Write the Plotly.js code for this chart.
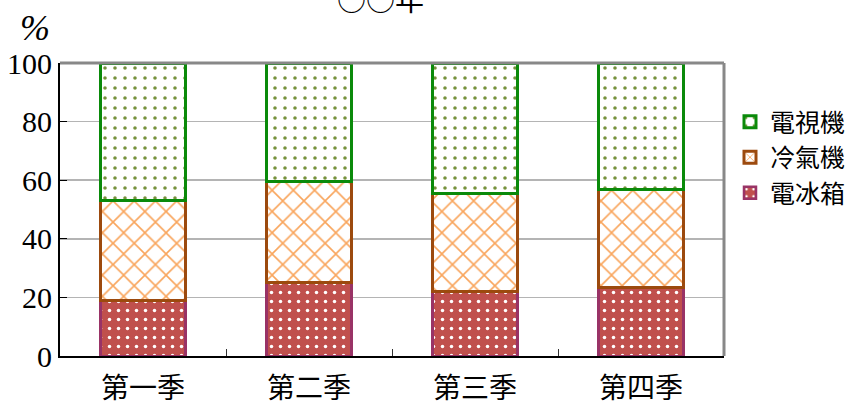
<!DOCTYPE html>
<html>
<head>
<meta charset="utf-8">
<script src="https://cdn.plot.ly/plotly-3.0.1.min.js"></script>
<style>html,body{margin:0;padding:0;background:#fff;}#chart{width:852px;height:405px;}</style>
</head>
<body>
<div id="chart"></div>
<script>
const categories = ['第一季', '第二季', '第三季', '第四季'];
const fridge = [18.9, 25.2, 21.9, 23.3];      // 電冰箱
const aircon = [34.3, 34.4, 33.6, 33.4];      // 冷氣機
const tv = [46.8, 40.4, 44.5, 43.3];          // 電視機
const yTicks = [0, 20, 40, 60, 80, 100];
const chartTitle = '○○年';
const unitLabel = '%';

const cjk = '"Noto Sans CJK TC", "Noto Sans CJK SC", sans-serif';
const serif = '"Liberation Serif", "DejaVu Serif", serif';

const traces = [
  {
    type: 'bar', name: '電冰箱', x: categories, y: fridge,
    marker: {
      color: '#c0504d',
      line: {color: '#993366', width: 2.5},
      pattern: {shape: '.', fillmode: 'replace', bgcolor: '#c0504d', fgcolor: '#ffffff', size: 9, solidity: 0.12}
    }
  },
  {
    type: 'bar', name: '冷氣機', x: categories, y: aircon,
    marker: {
      color: '#ffffff',
      line: {color: '#9c4a0e', width: 3},
      pattern: {shape: 'x', fillmode: 'replace', bgcolor: '#ffffff', fgcolor: '#f9a55c', size: 15, solidity: 0.2}
    }
  },
  {
    type: 'bar', name: '電視機', x: categories, y: tv,
    marker: {
      color: '#ffffff',
      line: {color: '#0a8a0a', width: 3},
      pattern: {shape: '.', fillmode: 'replace', bgcolor: '#ffffff', fgcolor: '#76923c', size: 10, solidity: 0.1}
    }
  }
];

const layout = {
  width: 852, height: 405,
  margin: {l: 60, r: 128, t: 63, b: 49},
  paper_bgcolor: '#ffffff', plot_bgcolor: '#ffffff',
  barmode: 'stack',
  bargap: 0.49,
  showlegend: true,
  legend: {
    xref: 'container', yref: 'container',
    x: 730 / 852, y: 1 - 99 / 405, xanchor: 'left', yanchor: 'top',
    traceorder: 'reversed',
    font: {family: cjk, size: 25, color: '#000'},
    itemwidth: 30, tracegroupgap: 0,
    bgcolor: 'rgba(0,0,0,0)'
  },
  xaxis: {
    type: 'category',
    showline: true, linecolor: '#000', linewidth: 2,
    ticks: 'inside', tickson: 'boundaries', ticklen: 7, tickcolor: '#333', tickwidth: 1,
    showgrid: false,
    tickfont: {family: cjk, size: 28, color: '#000'},
    ticklabelstandoff: 6
  },
  yaxis: {
    range: [0, 100],
    tickvals: yTicks,
    showline: true, linecolor: '#000', linewidth: 2,
    ticks: 'inside', ticklen: 7, tickcolor: '#000', tickwidth: 1,
    showgrid: true, gridcolor: '#b4b4b4', gridwidth: 1.5,
    zeroline: false,
    tickfont: {family: serif, size: 30, color: '#000'}
  },
  shapes: [
    {type: 'line', xref: 'paper', yref: 'paper', x0: 0, x1: 1, y0: 1, y1: 1, line: {color: '#888888', width: 3}},
    {type: 'line', xref: 'paper', yref: 'paper', x0: 1, x1: 1, y0: 0, y1: 1, line: {color: '#888888', width: 3}}
  ],
  annotations: [
    {text: chartTitle, xref: 'paper', yref: 'paper', x: (380 - 60) / 664, y: 1 + (63 + 2) / 293,
     xanchor: 'center', yanchor: 'middle', showarrow: false, font: {family: cjk, size: 29, color: '#000'}},
    {text: unitLabel, xref: 'paper', yref: 'paper', x: -25 / 664, y: 1 + (63 - 28) / 293,
     xanchor: 'center', yanchor: 'middle', showarrow: false, font: {family: serif, size: 36, color: '#000', style: 'italic'}}
  ]
};

Plotly.newPlot('chart', traces, layout, {staticPlot: true, displayModeBar: false});
</script>
</body>
</html>
